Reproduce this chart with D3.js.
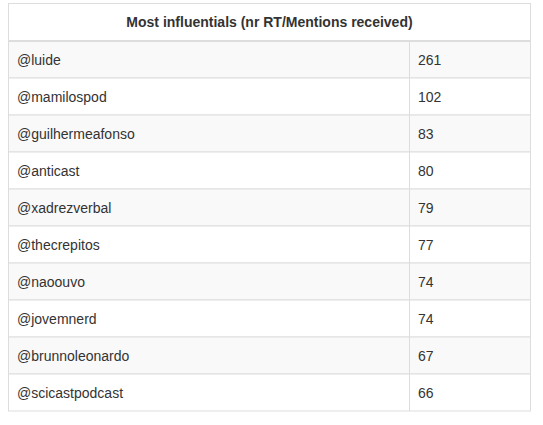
<!DOCTYPE html>
<html><head><meta charset="utf-8">
<script src="https://cdn.jsdelivr.net/npm/d3@7"></script>
<style>body{margin:0;background:#fff;font-family:"Liberation Sans",Arial,sans-serif;}</style>
</head><body>
<svg id="t" width="543" height="425"></svg>
<script>
const title = 'Most influentials (nr RT/Mentions received)';
const users = ['@luide','@mamilospod','@guilhermeafonso','@anticast','@xadrezverbal','@thecrepitos','@naoouvo','@jovemnerd','@brunnoleonardo','@scicastpodcast'];
const counts = [261,102,83,80,79,77,74,74,67,66];

const tLeft = 8, tRight = 531, tTop = 3.5, headH = 37.5, rowH = 37, colX = 409.5;
const svg = d3.select('#t');
const y = d3.scaleBand().domain(d3.range(users.length)).range([tTop + headH, tTop + headH + rowH * users.length]);

svg.append('rect').attr('x', tLeft + 0.5).attr('y', tTop).attr('width', tRight - tLeft - 1).attr('height', headH)
  .attr('fill', '#fff').attr('stroke', '#ddd');
svg.append('text').attr('x', (tLeft + tRight) / 2).attr('y', tTop + headH / 2 + 5)
  .attr('text-anchor', 'middle').attr('font-weight', 'bold').attr('font-size', 14).attr('fill', '#333').text(title);

const rows = svg.selectAll('g.row').data(users).enter().append('g').attr('class', 'row')
  .attr('transform', (d, i) => `translate(0,${y(i)})`);
rows.append('rect').attr('x', tLeft + 0.5).attr('width', tRight - tLeft - 1).attr('height', rowH)
  .attr('fill', (d, i) => i % 2 ? '#fff' : '#f9f9f9').attr('stroke', '#ddd');
rows.append('line').attr('x1', colX).attr('x2', colX).attr('y1', 0).attr('y2', rowH).attr('stroke', '#ddd');
rows.append('text').attr('x', 17).attr('y', rowH / 2 + 5).attr('font-size', 14).attr('fill', '#333').text(d => d);
rows.append('text').attr('x', 418).attr('y', rowH / 2 + 5).attr('font-size', 14).attr('fill', '#333').text((d, i) => counts[i]);

svg.append('line').attr('x1', tLeft).attr('x2', tRight).attr('y1', tTop + headH).attr('y2', tTop + headH)
  .attr('stroke', '#ddd').attr('stroke-width', 2);
</script>
</body></html>
